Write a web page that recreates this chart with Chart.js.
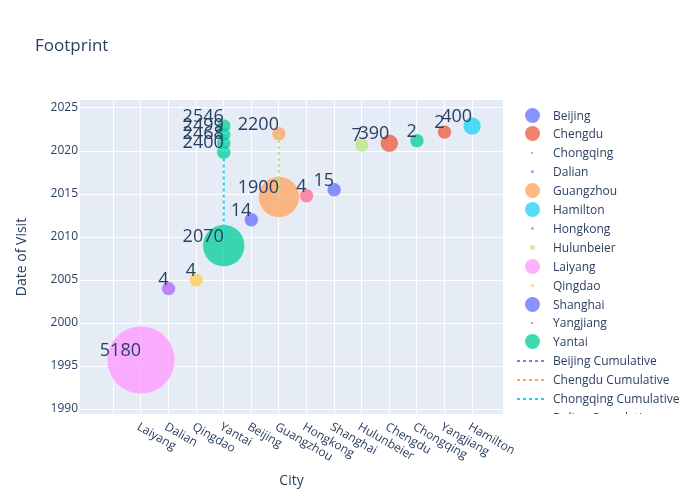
<!DOCTYPE html>
<html>
<head>
<meta charset="utf-8">
<script src="https://cdn.jsdelivr.net/npm/chart.js@4.4.1/dist/chart.umd.min.js"></script>
<style>
  body { margin: 0; background: #fff; }
  #wrap { position: relative; width: 700px; height: 500px; }
  #legend { position: absolute; left: 512px; top: 100px; width: 188px; height: 314px; overflow: hidden;
            font-family: 'Open Sans', sans-serif; font-size: 12px; color: #2a3f5f; }
  .item { position: absolute; left: 0; width: 188px; height: 19px; line-height: 19px; white-space: nowrap; }
  .item span { position: absolute; left: 41px; top: 0; }
  .dot { position: absolute; border-radius: 50%; }
  .dash { position: absolute; left: 5px; top: 8.5px; width: 28px; height: 2px; }
</style>
</head>
<body>
<div id="wrap">
  <canvas id="myChart"></canvas>
  <div id="legend"></div>
</div>
<script>
// x-axis order of the cities
var cities = ['Laiyang', 'Dalian', 'Qingdao', 'Yantai', 'Beijing', 'Guangzhou', 'Hongkong',
              'Shanghai', 'Hulunbeier', 'Chengdu', 'Chongqing', 'Yangjiang', 'Hamilton'];

// one entry per visit
var visitCity = ['Laiyang', 'Dalian', 'Qingdao', 'Yantai', 'Yantai', 'Yantai', 'Yantai', 'Yantai',
                 'Beijing', 'Guangzhou', 'Guangzhou', 'Hongkong', 'Shanghai', 'Hulunbeier',
                 'Chengdu', 'Chongqing', 'Yangjiang', 'Hamilton'];
var visitYear = [1995.7, 2004.0, 2005.0, 2009.0, 2019.85, 2020.9, 2021.9, 2022.9,
                 2012.0, 2014.65, 2022.0, 2014.8, 2015.5, 2020.7,
                 2020.9, 2021.2, 2022.2, 2022.9];
var visitText = [5180, 4, 4, 2070, 2400, 2468, 2499, 2546,
                 14, 1900, 2200, 4, 15, 7,
                 390, 2, 2, 400];
var visitSize = [23.6, 1, 1, 9, 1, 1, 1, 1,
                 1, 8.6, 1, 1, 1, 1,
                 1.65, 1, 1, 1.65];

var yTicks = [1990, 1995, 2000, 2005, 2010, 2015, 2020, 2025];

var palette = ['#636EFA', '#EF553B', '#00CC96', '#AB63FA', '#FFA15A', '#19D3F3', '#FF6692', '#B6E880', '#FF97FF', '#FECB52'];
var textColor = '#2a3f5f';
var legendDot = { Chongqing: 0.8, Dalian: 1.5, Hongkong: 1.5, Hulunbeier: 2.5, Qingdao: 1.5, Yangjiang: 0.8 };

function rgba(hex, a) {
    var n = parseInt(hex.slice(1), 16);
    return 'rgba(' + (n >> 16) + ',' + ((n >> 8) & 255) + ',' + (n & 255) + ',' + a + ')';
}

var legendOrder = cities.slice().sort();

function pointsFor(city) {
    var pts = [];
    visitCity.forEach(function (c, i) {
        if (c === city) {
            pts.push({ x: cities.indexOf(c), y: visitYear[i], r: 7 * Math.sqrt(visitSize[i]), text: visitText[i] });
        }
    });
    return pts;
}

var bubbleSets = legendOrder.map(function (city, k) {
    return {
        type: 'bubble',
        label: city,
        data: pointsFor(city),
        backgroundColor: rgba(palette[k % 10], 0.75),
        borderColor: 'rgba(255,255,255,0.7)',
        borderWidth: 0.6,
        hoverRadius: 0,
        order: 100 - k
    };
});

var lineSets = legendOrder.map(function (city, k) {
    var pts = pointsFor(city).sort(function (a, b) { return a.y - b.y; });
    return {
        type: 'line',
        label: city + ' Cumulative',
        data: pts.map(function (p) { return { x: p.x, y: p.y }; }),
        borderColor: palette[(k + 13) % 10],
        borderWidth: 2,
        borderDash: [3, 3],
        pointRadius: 0,
        tension: 0,
        fill: false,
        order: 50 - k
    };
});

var plotBg = {
    id: 'plotBg',
    beforeDraw: function (chart) {
        var a = chart.chartArea, ctx = chart.ctx;
        ctx.save();
        ctx.fillStyle = '#E5ECF6';
        ctx.fillRect(a.left, a.top, a.right - a.left, a.bottom - a.top);
        ctx.restore();
    }
};

var bubbleText = {
    id: 'bubbleText',
    afterDatasetsDraw: function (chart) {
        var ctx = chart.ctx;
        ctx.save();
        ctx.font = '18px "Open Sans"';
        ctx.fillStyle = textColor;
        ctx.textAlign = 'right';
        ctx.textBaseline = 'alphabetic';
        chart.data.datasets.forEach(function (ds, i) {
            if (ds.type !== 'bubble') return;
            chart.getDatasetMeta(i).data.forEach(function (el, j) {
                ctx.fillText(String(ds.data[j].text), el.x, el.y - 4);
            });
        });
        ctx.restore();
    }
};

var extraText = {
    id: 'extraText',
    afterDraw: function (chart) {
        var ctx = chart.ctx, xs = chart.scales.x, a = chart.chartArea;
        ctx.save();
        ctx.fillStyle = textColor;
        ctx.font = '17px "Open Sans"';
        ctx.textAlign = 'left';
        ctx.textBaseline = 'alphabetic';
        ctx.fillText('Footprint', 35, 51);
        // rotated category labels
        ctx.font = '12px "Open Sans"';
        ctx.textBaseline = 'middle';
        cities.forEach(function (c, i) {
            var px = xs.getPixelForValue(i);
            ctx.save();
            ctx.translate(px - 3, a.bottom + 12);
            ctx.rotate(Math.PI / 6);
            ctx.fillText(c, 0, 0);
            ctx.restore();
        });
        ctx.restore();
    }
};

var ctx = document.getElementById('myChart').getContext('2d');
var myChart = new Chart(ctx, {
    type: 'bubble',
    data: { datasets: bubbleSets.concat(lineSets) },
    plugins: [plotBg, bubbleText, extraText],
    options: {
        responsive: true,
        maintainAspectRatio: false,
        animation: false,
        events: [],
        layout: { padding: { left: 0, top: 100, right: 197, bottom: 0 } },
        plugins: {
            legend: { display: false },
            tooltip: { enabled: false }
        },
        scales: {
            x: {
                type: 'linear',
                min: -2.21,
                max: 13.12,
                afterBuildTicks: function (scale) {
                    var t = [{ value: -1 }];
                    cities.forEach(function (c, i) { t.push({ value: i }); });
                    scale.ticks = t;
                },
                afterFit: function (scale) { scale.height = 86; },
                ticks: { display: false },
                grid: { color: '#ffffff', lineWidth: 1, drawTicks: false },
                border: { display: false },
                title: {
                    display: true,
                    text: 'City',
                    color: textColor,
                    font: { family: 'Open Sans', size: 14 },
                    padding: { top: 0, bottom: 10.6 }
                }
            },
            y: {
                type: 'linear',
                min: 1989.42,
                max: 2025.93,
                afterBuildTicks: function (scale) {
                    scale.ticks = yTicks.map(function (v) { return { value: v }; });
                },
                afterFit: function (scale) { scale.width = 80; },
                ticks: {
                    padding: 2,
                    color: textColor,
                    font: { family: 'Open Sans', size: 12 },
                    callback: function (value) { return String(value); }
                },
                grid: { color: '#ffffff', lineWidth: 1, drawTicks: false },
                border: { display: false },
                title: {
                    display: true,
                    text: 'Date of Visit',
                    color: textColor,
                    font: { family: 'Open Sans', size: 14 },
                    padding: { top: 14, bottom: 0 }
                }
            }
        }
    }
});

// legend in the plotly style, clipped like a scrolling legend
var legendEl = document.getElementById('legend');
myChart.data.datasets.forEach(function (ds, i) {
    var item = document.createElement('div');
    item.className = 'item';
    item.style.top = (5.5 + 18.9 * i) + 'px';
    var sym = document.createElement('div');
    if (ds.type === 'bubble') {
        var r = legendDot[ds.label] || 7.5;
        sym.className = 'dot';
        sym.style.width = sym.style.height = (2 * r) + 'px';
        sym.style.left = (20 - r) + 'px';
        sym.style.top = (9.5 - r) + 'px';
        sym.style.background = ds.backgroundColor;
    } else {
        sym.className = 'dash';
        sym.style.background = 'repeating-linear-gradient(90deg, ' + ds.borderColor + ' 0 3px, transparent 3px 6px)';
    }
    var txt = document.createElement('span');
    txt.textContent = ds.label;
    item.appendChild(sym);
    item.appendChild(txt);
    legendEl.appendChild(item);
});
</script>
</body>
</html>
